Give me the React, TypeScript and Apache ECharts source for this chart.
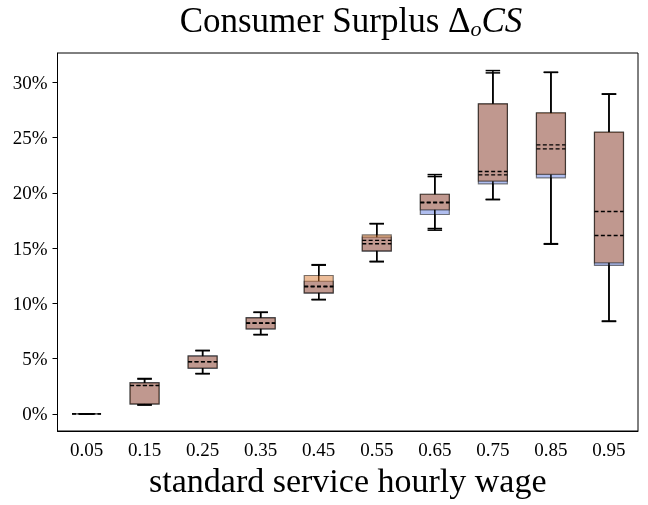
import React, { useEffect, useRef } from "react";
import * as echarts from "echarts";

const categories = ["0.05", "0.15", "0.25", "0.35", "0.45", "0.55", "0.65", "0.75", "0.85", "0.95"];

// [min, Q1, median, Q3, max] in percent
const seriesA = [
  [0, 0, 0, 0, 0],
  [0.8, 0.89, 2.55, 2.82, 3.2],
  [3.63, 4.11, 4.72, 5.26, 5.74],
  [7.16, 7.67, 8.2, 8.7, 9.2],
  [10.33, 10.92, 11.5, 12.0, 13.45],
  [13.76, 14.72, 15.39, 15.99, 17.22],
  [16.62, 18.04, 19.1, 19.87, 21.47],
  [19.39, 20.81, 21.63, 28.05, 30.85],
  [15.35, 21.36, 23.98, 27.2, 30.9],
  [8.36, 13.43, 16.14, 25.48, 28.92],
];

const seriesB = [
  [0, 0, 0, 0, 0],
  [0.82, 0.9, 2.57, 2.8, 3.15],
  [3.65, 4.15, 4.7, 5.22, 5.72],
  [7.18, 7.7, 8.22, 8.68, 9.18],
  [10.35, 10.95, 11.55, 12.52, 13.5],
  [13.8, 14.75, 15.69, 16.2, 17.2],
  [16.77, 18.46, 19.15, 19.87, 21.65],
  [19.4, 21.05, 21.93, 28.05, 31.06],
  [15.4, 21.66, 24.34, 27.25, 30.9],
  [8.4, 13.67, 18.31, 25.5, 28.95],
];

const yTicks = [0, 5, 10, 15, 20, 25, 30];

const FONT = "Liberation Serif";

function boxRender(fill: string) {
  return (params: any, api: any) => {
    const x = api.value(0);
    const pMin = api.coord([x, api.value(1)]);
    const pQ1 = api.coord([x, api.value(2)]);
    const pQ3 = api.coord([x, api.value(4)]);
    const pMax = api.coord([x, api.value(5)]);
    const cx = pQ1[0];
    const bw = api.size([1, 0])[0] * 0.5;
    const cw = bw * 0.5;
    const wStyle = { stroke: "#000", lineWidth: 1.5 };
    return {
      type: "group",
      children: [
        {
          type: "rect",
          shape: { x: cx - bw / 2, y: pQ3[1], width: bw, height: pQ1[1] - pQ3[1] },
          style: { fill, stroke: "rgba(0,0,0,0.5)", lineWidth: 1.2 },
        },
        { type: "line", shape: { x1: cx, y1: pQ1[1], x2: cx, y2: pMin[1] }, style: wStyle },
        { type: "line", shape: { x1: cx, y1: pQ3[1], x2: cx, y2: pMax[1] }, style: wStyle },
        { type: "line", shape: { x1: cx - cw / 2, y1: pMin[1], x2: cx + cw / 2, y2: pMin[1] }, style: wStyle },
        { type: "line", shape: { x1: cx - cw / 2, y1: pMax[1], x2: cx + cw / 2, y2: pMax[1] }, style: wStyle },
      ],
    };
  };
}

function medianRender(params: any, api: any) {
  const x = api.value(0);
  const p = api.coord([x, api.value(3)]);
  const bw = api.size([1, 0])[0] * 0.5;
  return {
    type: "line",
    shape: { x1: p[0] - bw / 2, y1: p[1], x2: p[0] + bw / 2, y2: p[1] },
    style: { stroke: "#000", lineWidth: 1.3, lineDash: [4, 2.4] },
  };
}

export default function App() {
  const ref = useRef<HTMLDivElement>(null);
  useEffect(() => {
    if (!ref.current) return;
    const chart = echarts.init(ref.current, null, { renderer: "svg" });
    const dataA = seriesA.map((d, i) => [i, ...d]);
    const dataB = seriesB.map((d, i) => [i, ...d]);
    const enc = { x: 0, y: [1, 2, 3, 4, 5] };
    chart.setOption({
      animation: false,
      title: {
        text: "{n|Consumer Surplus }{n|Δ}{s|o}{i|CS}",
        left: 346,
        textAlign: "center",
        top: -4,
        textStyle: {
          fontWeight: "normal",
          rich: {
            n: { fontFamily: FONT, fontSize: 35, fontWeight: "normal", color: "#000", lineHeight: 38 },
            s: { fontFamily: FONT, fontSize: 22, fontStyle: "italic", fontWeight: "normal", color: "#000", lineHeight: 16, verticalAlign: "bottom" },
            i: { fontFamily: FONT, fontSize: 35, fontStyle: "italic", fontWeight: "normal", color: "#000", lineHeight: 38 },
          },
        },
      },
      grid: {
        left: 57.5,
        right: 10,
        top: 53,
        bottom: 74,
        show: true,
        borderColor: "#000",
        borderWidth: 1,
        backgroundColor: "transparent",
        outerBoundsMode: "none",
      },
      xAxis: {
        type: "category",
        data: categories,
        boundaryGap: true,
        axisLine: { onZero: false, lineStyle: { color: "#000", width: 1 } },
        axisTick: { alignWithLabel: true, length: 5, lineStyle: { color: "#000" } },
        axisLabel: { color: "#000", fontSize: 19, fontFamily: FONT, margin: 9, interval: 0 },
        splitLine: { show: false },
        name: "standard service hourly wage",
        nameLocation: "middle",
        nameGap: 30,
        nameTextStyle: { color: "#000", fontSize: 34, fontFamily: FONT },
      },
      yAxis: {
        type: "value",
        min: -1.55,
        max: 32.65,
        axisLine: { show: true, lineStyle: { color: "#000", width: 1 } },
        axisTick: { show: true, length: 5, customValues: yTicks, lineStyle: { color: "#000" } },
        axisLabel: {
          color: "#000",
          fontSize: 19,
          fontFamily: FONT,
          margin: 10,
          customValues: yTicks,
          formatter: (v: number) => v + "%",
        },
        splitLine: { show: false },
      },
      series: [
        { type: "custom", name: "A", data: dataA, encode: enc, renderItem: boxRender("rgba(80,110,220,0.45)"), clip: false, z: 2 },
        { type: "custom", name: "B", data: dataB, encode: enc, renderItem: boxRender("rgba(213,107,27,0.45)"), clip: false, z: 3 },
        { type: "custom", name: "mA", data: dataA, encode: enc, renderItem: medianRender, clip: false, z: 4 },
        { type: "custom", name: "mB", data: dataB, encode: enc, renderItem: medianRender, clip: false, z: 4 },
      ],
    });
    return () => chart.dispose();
  }, []);
  return <div ref={ref} style={{ position: "fixed", left: 0, top: 0, width: 648, height: 505 }} />;
}
